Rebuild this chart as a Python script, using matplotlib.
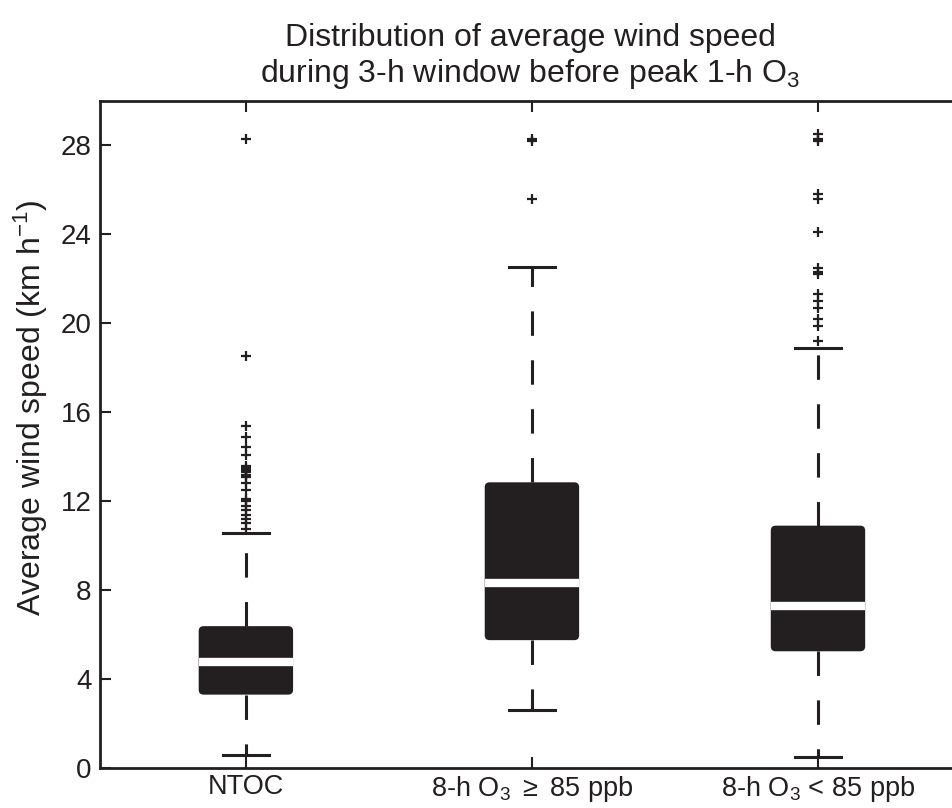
import numpy as np
import matplotlib.pyplot as plt
from matplotlib.patches import FancyBboxPatch

plt.rcParams['font.family'] = ['Liberation Sans', 'DejaVu Sans']
plt.rcParams['mathtext.fontset'] = 'custom'
plt.rcParams['mathtext.rm'] = 'Liberation Sans'
plt.rcParams['mathtext.it'] = 'Liberation Sans:italic'

# box statistics (km/h)
labels = ['NTOC', r'8-h O$_3$ $\geq$ 85 ppb', r'8-h O$_3$ < 85 ppb']
whislo = [0.6, 2.6, 0.5]
q1 = [3.3, 5.75, 5.25]
med = [4.75, 8.3, 7.3]
q3 = [6.38, 12.85, 10.9]
whishi = [10.57, 22.53, 18.87]

fliers_ntoc = [28.3, 18.55, 15.4, 14.9, 14.45, 14.1, 13.6, 13.5, 13.4, 13.3,
               13.2, 13.1, 12.8, 12.5, 12.1, 12.0, 11.8, 11.6, 11.4, 11.2,
               11.0, 10.75]
fliers_high = [28.3, 28.2, 25.6]
fliers_low = [28.5, 28.3, 28.2, 25.8, 25.6, 24.1, 22.5, 22.3, 22.2, 21.3,
              21.0, 20.7, 20.2, 19.9, 19.2]
fliers = [fliers_ntoc, fliers_high, fliers_low]

dark = '#231f20'

fig = plt.figure(figsize=(9.53, 8.08), dpi=100)
ax = fig.add_axes([100/953, 40/808, 861/953, 667/808])

stats = []
for i in range(3):
    stats.append(dict(med=med[i], q1=q1[i], q3=q3[i], whislo=whislo[i],
                      whishi=whishi[i], fliers=fliers[i], label=labels[i]))

pos = [1, 2, 3]
w = 0.33
ax.bxp(stats, positions=pos, widths=w, showbox=False,
       whiskerprops=dict(color=dark, lw=2.2, linestyle=(0, (8, 8))),
       capprops=dict(color=dark, lw=2.2),
       medianprops=dict(color='white', lw=6, zorder=4, solid_capstyle='butt'),
       flierprops=dict(marker='+', markersize=7, markeredgewidth=1.6,
                       markeredgecolor=dark, linestyle='none'),
       capwidths=0.16)

for i, p in enumerate(pos):
    box = FancyBboxPatch((p - w/2, q1[i]), w, q3[i] - q1[i],
                         boxstyle='round,pad=0,rounding_size=0.017',
                         mutation_aspect=12.9, facecolor=dark,
                         edgecolor='none', zorder=3)
    ax.add_patch(box)

ax.set_xlim(0.49, 3.5)
ax.set_ylim(0, 30)
ax.set_yticks(np.arange(0, 29, 4))
ax.set_xticks(pos)
ax.set_xticklabels(labels)
ax.tick_params(direction='in', length=8, width=1.5, top=True, right=False,
               labelsize=20, pad=6, colors=dark)
ax.tick_params(axis='x', pad=4, labelsize=19.5)
for s in ax.spines.values():
    s.set_linewidth(2)
    s.set_color(dark)

ax.set_ylabel(r'Average wind speed (km h$^{-1}$)', fontsize=23, color=dark)
ax.yaxis.set_label_coords(-0.058, 0.54)
ax.set_title('Distribution of average wind speed\n'
             r'during 3-h window before peak 1-h O$_3$',
             fontsize=23, color=dark, pad=14, linespacing=1.15)

fig.savefig('out.png', dpi=100)
